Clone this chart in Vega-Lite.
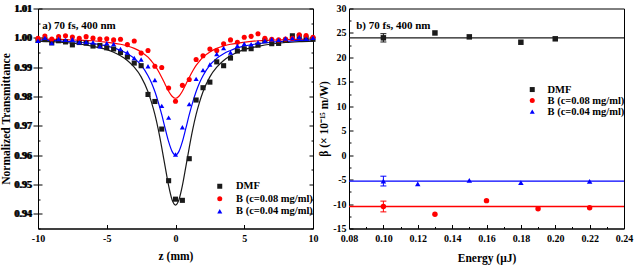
{
  "$schema": "https://vega.github.io/schema/vega-lite/v6.json",
  "background": "white",
  "padding": {"left": 0, "top": 2.5, "right": 0, "bottom": 0},
  "spacing": 36,
  "bounds": "flush",
  "resolve": {"scale": {"color": "independent", "shape": "independent"}, "legend": {"color": "independent", "shape": "independent"}},
  "config": {
    "view": {"stroke": "black", "strokeWidth": 1},
    "font": "Liberation Serif",
    "axis": {"labelFont": "Liberation Serif", "labelFontWeight": "bold", "labelFontSize": 10, "labelColor": "black", "titleFont": "Liberation Serif", "titleFontWeight": "bold", "titleFontSize": 11.5, "titleColor": "black", "domainColor": "black", "tickColor": "black", "grid": false, "labelOverlap": false, "labelFlush": false},
    "legend": {"labelFont": "Liberation Serif", "labelFontWeight": "bold", "labelFontSize": 10.5, "labelColor": "black"}
  },
  "datasets": {
    "fit": [
      {"series": "DMF", "z": -10, "T": 0.9989}, {"series": "DMF", "z": -9, "T": 0.9987}, {"series": "DMF", "z": -8, "T": 0.9984}, {"series": "DMF", "z": -7, "T": 0.9979}, {"series": "DMF", "z": -6, "T": 0.9971}, {"series": "DMF", "z": -5, "T": 0.996}, {"series": "DMF", "z": -4.5, "T": 0.9951}, {"series": "DMF", "z": -4, "T": 0.9939}, {"series": "DMF", "z": -3.5, "T": 0.9923}, {"series": "DMF", "z": -3, "T": 0.99}, {"series": "DMF", "z": -2.5, "T": 0.9867}, {"series": "DMF", "z": -2, "T": 0.9816}, {"series": "DMF", "z": -1.75, "T": 0.9781}, {"series": "DMF", "z": -1.5, "T": 0.9739}, {"series": "DMF", "z": -1.25, "T": 0.9687}, {"series": "DMF", "z": -1, "T": 0.9626}, {"series": "DMF", "z": -0.75, "T": 0.956}, {"series": "DMF", "z": -0.5, "T": 0.9496}, {"series": "DMF", "z": -0.25, "T": 0.9448}, {"series": "DMF", "z": 0, "T": 0.943}, {"series": "DMF", "z": 0.25, "T": 0.9448}, {"series": "DMF", "z": 0.5, "T": 0.9496}, {"series": "DMF", "z": 0.75, "T": 0.956}, {"series": "DMF", "z": 1, "T": 0.9626}, {"series": "DMF", "z": 1.25, "T": 0.9687}, {"series": "DMF", "z": 1.5, "T": 0.9739}, {"series": "DMF", "z": 1.75, "T": 0.9781}, {"series": "DMF", "z": 2, "T": 0.9816}, {"series": "DMF", "z": 2.5, "T": 0.9867}, {"series": "DMF", "z": 3, "T": 0.99}, {"series": "DMF", "z": 3.5, "T": 0.9923}, {"series": "DMF", "z": 4, "T": 0.9939}, {"series": "DMF", "z": 4.5, "T": 0.9951}, {"series": "DMF", "z": 5, "T": 0.996}, {"series": "DMF", "z": 6, "T": 0.9971}, {"series": "DMF", "z": 7, "T": 0.9979}, {"series": "DMF", "z": 8, "T": 0.9984}, {"series": "DMF", "z": 9, "T": 0.9987}, {"series": "DMF", "z": 10, "T": 0.9989},
      {"series": "B (c=0.08 mg/ml)", "z": -10, "T": 0.9996}, {"series": "B (c=0.08 mg/ml)", "z": -9, "T": 0.9995}, {"series": "B (c=0.08 mg/ml)", "z": -8, "T": 0.9994}, {"series": "B (c=0.08 mg/ml)", "z": -7, "T": 0.9992}, {"series": "B (c=0.08 mg/ml)", "z": -6, "T": 0.999}, {"series": "B (c=0.08 mg/ml)", "z": -5, "T": 0.9985}, {"series": "B (c=0.08 mg/ml)", "z": -4.5, "T": 0.9982}, {"series": "B (c=0.08 mg/ml)", "z": -4, "T": 0.9978}, {"series": "B (c=0.08 mg/ml)", "z": -3.5, "T": 0.9972}, {"series": "B (c=0.08 mg/ml)", "z": -3, "T": 0.9964}, {"series": "B (c=0.08 mg/ml)", "z": -2.5, "T": 0.9952}, {"series": "B (c=0.08 mg/ml)", "z": -2, "T": 0.9934}, {"series": "B (c=0.08 mg/ml)", "z": -1.75, "T": 0.9921}, {"series": "B (c=0.08 mg/ml)", "z": -1.5, "T": 0.9906}, {"series": "B (c=0.08 mg/ml)", "z": -1.25, "T": 0.9887}, {"series": "B (c=0.08 mg/ml)", "z": -1, "T": 0.9865}, {"series": "B (c=0.08 mg/ml)", "z": -0.75, "T": 0.9841}, {"series": "B (c=0.08 mg/ml)", "z": -0.5, "T": 0.9818}, {"series": "B (c=0.08 mg/ml)", "z": -0.25, "T": 0.9801}, {"series": "B (c=0.08 mg/ml)", "z": 0, "T": 0.9794}, {"series": "B (c=0.08 mg/ml)", "z": 0.25, "T": 0.9801}, {"series": "B (c=0.08 mg/ml)", "z": 0.5, "T": 0.9818}, {"series": "B (c=0.08 mg/ml)", "z": 0.75, "T": 0.9841}, {"series": "B (c=0.08 mg/ml)", "z": 1, "T": 0.9865}, {"series": "B (c=0.08 mg/ml)", "z": 1.25, "T": 0.9887}, {"series": "B (c=0.08 mg/ml)", "z": 1.5, "T": 0.9906}, {"series": "B (c=0.08 mg/ml)", "z": 1.75, "T": 0.9921}, {"series": "B (c=0.08 mg/ml)", "z": 2, "T": 0.9934}, {"series": "B (c=0.08 mg/ml)", "z": 2.5, "T": 0.9952}, {"series": "B (c=0.08 mg/ml)", "z": 3, "T": 0.9964}, {"series": "B (c=0.08 mg/ml)", "z": 3.5, "T": 0.9972}, {"series": "B (c=0.08 mg/ml)", "z": 4, "T": 0.9978}, {"series": "B (c=0.08 mg/ml)", "z": 4.5, "T": 0.9982}, {"series": "B (c=0.08 mg/ml)", "z": 5, "T": 0.9985}, {"series": "B (c=0.08 mg/ml)", "z": 6, "T": 0.999}, {"series": "B (c=0.08 mg/ml)", "z": 7, "T": 0.9992}, {"series": "B (c=0.08 mg/ml)", "z": 8, "T": 0.9994}, {"series": "B (c=0.08 mg/ml)", "z": 9, "T": 0.9995}, {"series": "B (c=0.08 mg/ml)", "z": 10, "T": 0.9996},
      {"series": "B (c=0.04 mg/ml)", "z": -10, "T": 0.9993}, {"series": "B (c=0.04 mg/ml)", "z": -9, "T": 0.9991}, {"series": "B (c=0.04 mg/ml)", "z": -8, "T": 0.9988}, {"series": "B (c=0.04 mg/ml)", "z": -7, "T": 0.9985}, {"series": "B (c=0.04 mg/ml)", "z": -6, "T": 0.998}, {"series": "B (c=0.04 mg/ml)", "z": -5, "T": 0.9972}, {"series": "B (c=0.04 mg/ml)", "z": -4.5, "T": 0.9966}, {"series": "B (c=0.04 mg/ml)", "z": -4, "T": 0.9957}, {"series": "B (c=0.04 mg/ml)", "z": -3.5, "T": 0.9946}, {"series": "B (c=0.04 mg/ml)", "z": -3, "T": 0.993}, {"series": "B (c=0.04 mg/ml)", "z": -2.5, "T": 0.9907}, {"series": "B (c=0.04 mg/ml)", "z": -2, "T": 0.9871}, {"series": "B (c=0.04 mg/ml)", "z": -1.75, "T": 0.9847}, {"series": "B (c=0.04 mg/ml)", "z": -1.5, "T": 0.9817}, {"series": "B (c=0.04 mg/ml)", "z": -1.25, "T": 0.978}, {"series": "B (c=0.04 mg/ml)", "z": -1, "T": 0.9738}, {"series": "B (c=0.04 mg/ml)", "z": -0.75, "T": 0.9691}, {"series": "B (c=0.04 mg/ml)", "z": -0.5, "T": 0.9646}, {"series": "B (c=0.04 mg/ml)", "z": -0.25, "T": 0.9613}, {"series": "B (c=0.04 mg/ml)", "z": 0, "T": 0.96}, {"series": "B (c=0.04 mg/ml)", "z": 0.25, "T": 0.9613}, {"series": "B (c=0.04 mg/ml)", "z": 0.5, "T": 0.9646}, {"series": "B (c=0.04 mg/ml)", "z": 0.75, "T": 0.9691}, {"series": "B (c=0.04 mg/ml)", "z": 1, "T": 0.9738}, {"series": "B (c=0.04 mg/ml)", "z": 1.25, "T": 0.978}, {"series": "B (c=0.04 mg/ml)", "z": 1.5, "T": 0.9817}, {"series": "B (c=0.04 mg/ml)", "z": 1.75, "T": 0.9847}, {"series": "B (c=0.04 mg/ml)", "z": 2, "T": 0.9871}, {"series": "B (c=0.04 mg/ml)", "z": 2.5, "T": 0.9907}, {"series": "B (c=0.04 mg/ml)", "z": 3, "T": 0.993}, {"series": "B (c=0.04 mg/ml)", "z": 3.5, "T": 0.9946}, {"series": "B (c=0.04 mg/ml)", "z": 4, "T": 0.9957}, {"series": "B (c=0.04 mg/ml)", "z": 4.5, "T": 0.9966}, {"series": "B (c=0.04 mg/ml)", "z": 5, "T": 0.9972}, {"series": "B (c=0.04 mg/ml)", "z": 6, "T": 0.998}, {"series": "B (c=0.04 mg/ml)", "z": 7, "T": 0.9985}, {"series": "B (c=0.04 mg/ml)", "z": 8, "T": 0.9988}, {"series": "B (c=0.04 mg/ml)", "z": 9, "T": 0.9991}, {"series": "B (c=0.04 mg/ml)", "z": 10, "T": 0.9993}
    ],
    "zscan": [
      {"series": "DMF", "z": -10, "T": 0.9991}, {"series": "DMF", "z": -9.5, "T": 0.9994}, {"series": "DMF", "z": -9, "T": 0.9983}, {"series": "DMF", "z": -8.5, "T": 0.999}, {"series": "DMF", "z": -8, "T": 0.9986}, {"series": "DMF", "z": -7.5, "T": 0.9976}, {"series": "DMF", "z": -7, "T": 0.9984}, {"series": "DMF", "z": -6.5, "T": 0.9982}, {"series": "DMF", "z": -6, "T": 0.9972}, {"series": "DMF", "z": -5.5, "T": 0.9974}, {"series": "DMF", "z": -5, "T": 0.9966}, {"series": "DMF", "z": -4.5, "T": 0.9962}, {"series": "DMF", "z": -4, "T": 0.995}, {"series": "DMF", "z": -3.5, "T": 0.9935}, {"series": "DMF", "z": -3, "T": 0.9914}, {"series": "DMF", "z": -2.5, "T": 0.9905}, {"series": "DMF", "z": -2, "T": 0.9807}, {"series": "DMF", "z": -1.5, "T": 0.9783}, {"series": "DMF", "z": -1, "T": 0.9689}, {"series": "DMF", "z": -0.5, "T": 0.9513}, {"series": "DMF", "z": 0, "T": 0.945}, {"series": "DMF", "z": 0.5, "T": 0.9446}, {"series": "DMF", "z": 1, "T": 0.9588}, {"series": "DMF", "z": 1.5, "T": 0.9788}, {"series": "DMF", "z": 2, "T": 0.983}, {"series": "DMF", "z": 2.5, "T": 0.9849}, {"series": "DMF", "z": 3, "T": 0.9918}, {"series": "DMF", "z": 3.5, "T": 0.9905}, {"series": "DMF", "z": 4, "T": 0.9931}, {"series": "DMF", "z": 4.5, "T": 0.9955}, {"series": "DMF", "z": 5, "T": 0.9962}, {"series": "DMF", "z": 5.5, "T": 0.9963}, {"series": "DMF", "z": 6, "T": 0.9975}, {"series": "DMF", "z": 6.5, "T": 0.999}, {"series": "DMF", "z": 7, "T": 0.998}, {"series": "DMF", "z": 7.5, "T": 0.9981}, {"series": "DMF", "z": 8, "T": 0.9991}, {"series": "DMF", "z": 8.5, "T": 1.0007}, {"series": "DMF", "z": 9, "T": 1.0004}, {"series": "DMF", "z": 9.5, "T": 0.9999}, {"series": "DMF", "z": 10, "T": 0.9995},
      {"series": "B (c=0.08 mg/ml)", "z": -10, "T": 0.9998}, {"series": "B (c=0.08 mg/ml)", "z": -9.5, "T": 1.0006}, {"series": "B (c=0.08 mg/ml)", "z": -9, "T": 0.9996}, {"series": "B (c=0.08 mg/ml)", "z": -8.5, "T": 1.0004}, {"series": "B (c=0.08 mg/ml)", "z": -8, "T": 1.0007}, {"series": "B (c=0.08 mg/ml)", "z": -7.5, "T": 1.0003}, {"series": "B (c=0.08 mg/ml)", "z": -7, "T": 0.9998}, {"series": "B (c=0.08 mg/ml)", "z": -6.5, "T": 1.0004}, {"series": "B (c=0.08 mg/ml)", "z": -6, "T": 0.9999}, {"series": "B (c=0.08 mg/ml)", "z": -5.5, "T": 0.9996}, {"series": "B (c=0.08 mg/ml)", "z": -5, "T": 0.9997}, {"series": "B (c=0.08 mg/ml)", "z": -4.5, "T": 0.9993}, {"series": "B (c=0.08 mg/ml)", "z": -4, "T": 0.9995}, {"series": "B (c=0.08 mg/ml)", "z": -3.5, "T": 0.9977}, {"series": "B (c=0.08 mg/ml)", "z": -3, "T": 0.9989}, {"series": "B (c=0.08 mg/ml)", "z": -2.5, "T": 0.9948}, {"series": "B (c=0.08 mg/ml)", "z": -2, "T": 0.9957}, {"series": "B (c=0.08 mg/ml)", "z": -1.5, "T": 0.9903}, {"series": "B (c=0.08 mg/ml)", "z": -1, "T": 0.9899}, {"series": "B (c=0.08 mg/ml)", "z": -0.5, "T": 0.9829}, {"series": "B (c=0.08 mg/ml)", "z": 0, "T": 0.9784}, {"series": "B (c=0.08 mg/ml)", "z": 0.5, "T": 0.9838}, {"series": "B (c=0.08 mg/ml)", "z": 1, "T": 0.9858}, {"series": "B (c=0.08 mg/ml)", "z": 1.5, "T": 0.9926}, {"series": "B (c=0.08 mg/ml)", "z": 2, "T": 0.9939}, {"series": "B (c=0.08 mg/ml)", "z": 2.5, "T": 0.9962}, {"series": "B (c=0.08 mg/ml)", "z": 3, "T": 0.9957}, {"series": "B (c=0.08 mg/ml)", "z": 3.5, "T": 0.998}, {"series": "B (c=0.08 mg/ml)", "z": 4, "T": 0.9993}, {"series": "B (c=0.08 mg/ml)", "z": 4.5, "T": 0.9985}, {"series": "B (c=0.08 mg/ml)", "z": 5, "T": 1.0002}, {"series": "B (c=0.08 mg/ml)", "z": 5.5, "T": 1.0005}, {"series": "B (c=0.08 mg/ml)", "z": 6, "T": 1.0014}, {"series": "B (c=0.08 mg/ml)", "z": 6.5, "T": 0.9998}, {"series": "B (c=0.08 mg/ml)", "z": 7, "T": 0.9995}, {"series": "B (c=0.08 mg/ml)", "z": 7.5, "T": 0.9993}, {"series": "B (c=0.08 mg/ml)", "z": 8, "T": 0.9996}, {"series": "B (c=0.08 mg/ml)", "z": 8.5, "T": 0.9998}, {"series": "B (c=0.08 mg/ml)", "z": 9, "T": 1.001}, {"series": "B (c=0.08 mg/ml)", "z": 9.5, "T": 1.0008}, {"series": "B (c=0.08 mg/ml)", "z": 10, "T": 1.0002},
      {"series": "B (c=0.04 mg/ml)", "z": -10, "T": 0.999}, {"series": "B (c=0.04 mg/ml)", "z": -9.5, "T": 1.0}, {"series": "B (c=0.04 mg/ml)", "z": -9, "T": 0.9982}, {"series": "B (c=0.04 mg/ml)", "z": -8.5, "T": 0.9996}, {"series": "B (c=0.04 mg/ml)", "z": -8, "T": 0.9993}, {"series": "B (c=0.04 mg/ml)", "z": -7.5, "T": 0.9995}, {"series": "B (c=0.04 mg/ml)", "z": -7, "T": 0.9985}, {"series": "B (c=0.04 mg/ml)", "z": -6.5, "T": 0.9986}, {"series": "B (c=0.04 mg/ml)", "z": -6, "T": 0.9985}, {"series": "B (c=0.04 mg/ml)", "z": -5.5, "T": 0.9971}, {"series": "B (c=0.04 mg/ml)", "z": -5, "T": 0.9982}, {"series": "B (c=0.04 mg/ml)", "z": -4.5, "T": 0.9979}, {"series": "B (c=0.04 mg/ml)", "z": -4, "T": 0.9962}, {"series": "B (c=0.04 mg/ml)", "z": -3.5, "T": 0.995}, {"series": "B (c=0.04 mg/ml)", "z": -3, "T": 0.9931}, {"series": "B (c=0.04 mg/ml)", "z": -2.5, "T": 0.9926}, {"series": "B (c=0.04 mg/ml)", "z": -2, "T": 0.9903}, {"series": "B (c=0.04 mg/ml)", "z": -1.5, "T": 0.9856}, {"series": "B (c=0.04 mg/ml)", "z": -1, "T": 0.9768}, {"series": "B (c=0.04 mg/ml)", "z": -0.5, "T": 0.9728}, {"series": "B (c=0.04 mg/ml)", "z": 0, "T": 0.9602}, {"series": "B (c=0.04 mg/ml)", "z": 0.5, "T": 0.9695}, {"series": "B (c=0.04 mg/ml)", "z": 1, "T": 0.9774}, {"series": "B (c=0.04 mg/ml)", "z": 1.5, "T": 0.986}, {"series": "B (c=0.04 mg/ml)", "z": 2, "T": 0.989}, {"series": "B (c=0.04 mg/ml)", "z": 2.5, "T": 0.9909}, {"series": "B (c=0.04 mg/ml)", "z": 3, "T": 0.9945}, {"series": "B (c=0.04 mg/ml)", "z": 3.5, "T": 0.9965}, {"series": "B (c=0.04 mg/ml)", "z": 4, "T": 0.995}, {"series": "B (c=0.04 mg/ml)", "z": 4.5, "T": 0.9973}, {"series": "B (c=0.04 mg/ml)", "z": 5, "T": 0.998}, {"series": "B (c=0.04 mg/ml)", "z": 5.5, "T": 0.9978}, {"series": "B (c=0.04 mg/ml)", "z": 6, "T": 0.9985}, {"series": "B (c=0.04 mg/ml)", "z": 6.5, "T": 0.999}, {"series": "B (c=0.04 mg/ml)", "z": 7, "T": 0.9995}, {"series": "B (c=0.04 mg/ml)", "z": 7.5, "T": 0.9993}, {"series": "B (c=0.04 mg/ml)", "z": 8, "T": 0.9998}, {"series": "B (c=0.04 mg/ml)", "z": 8.5, "T": 0.9999}, {"series": "B (c=0.04 mg/ml)", "z": 9, "T": 1.0003}, {"series": "B (c=0.04 mg/ml)", "z": 9.5, "T": 0.9997}, {"series": "B (c=0.04 mg/ml)", "z": 10, "T": 1.0}
    ],
    "beta": [
      {"series": "DMF", "E": 0.10, "beta": 24.0}, {"series": "DMF", "E": 0.13, "beta": 25.0}, {"series": "DMF", "E": 0.15, "beta": 24.2}, {"series": "DMF", "E": 0.18, "beta": 23.1}, {"series": "DMF", "E": 0.20, "beta": 23.8},
      {"series": "B (c=0.08 mg/ml)", "E": 0.10, "beta": -10.5}, {"series": "B (c=0.08 mg/ml)", "E": 0.13, "beta": -12.1}, {"series": "B (c=0.08 mg/ml)", "E": 0.16, "beta": -9.3}, {"series": "B (c=0.08 mg/ml)", "E": 0.19, "beta": -10.95}, {"series": "B (c=0.08 mg/ml)", "E": 0.22, "beta": -10.75},
      {"series": "B (c=0.04 mg/ml)", "E": 0.10, "beta": -5.3}, {"series": "B (c=0.04 mg/ml)", "E": 0.12, "beta": -5.85}, {"series": "B (c=0.04 mg/ml)", "E": 0.15, "beta": -5.15}, {"series": "B (c=0.04 mg/ml)", "E": 0.18, "beta": -5.6}, {"series": "B (c=0.04 mg/ml)", "E": 0.22, "beta": -5.35}
    ],
    "betaFit": [
      {"series": "DMF", "E": 0.08, "beta": 24.0}, {"series": "DMF", "E": 0.24, "beta": 24.0},
      {"series": "B (c=0.08 mg/ml)", "E": 0.08, "beta": -10.5}, {"series": "B (c=0.08 mg/ml)", "E": 0.24, "beta": -10.5},
      {"series": "B (c=0.04 mg/ml)", "E": 0.08, "beta": -5.3}, {"series": "B (c=0.04 mg/ml)", "E": 0.24, "beta": -5.3}
    ],
    "betaErr": [
      {"series": "DMF", "E": 0.10, "lo": 23.15, "hi": 24.85},
      {"series": "B (c=0.08 mg/ml)", "E": 0.10, "lo": -11.6, "hi": -9.4},
      {"series": "B (c=0.04 mg/ml)", "E": 0.10, "lo": -6.3, "hi": -4.3}
    ],
    "noteA": [{"label": "a) 70 fs, 400 nm"}],
    "noteB": [{"label": "b) 70 fs, 400 nm"}]
  },
  "hconcat": [
    {
      "width": 275,
      "height": 220,
      "layer": [
        {
          "data": {"name": "fit"},
          "mark": {"type": "line", "interpolate": "monotone", "strokeWidth": 1.2},
          "encoding": {
            "x": {"field": "z", "type": "quantitative", "scale": {"domain": [-10, 10], "nice": false, "zero": false},
              "axis": {"title": "z (mm)", "values": [-10, -7.5, -5, -2.5, 0, 2.5, 5, 7.5, 10], "labelOverlap": false, "labelExpr": "datum.value % 5 == 0 ? replace(datum.label, '\u2212', '-') : ''", "tickSize": {"condition": {"test": "datum.value % 5 != 0", "value": -2}, "value": -4}, "labelPadding": 9, "titlePadding": 7}},
            "y": {"field": "T", "type": "quantitative", "scale": {"domain": [0.935, 1.01], "nice": false, "zero": false},
              "axis": {"orient": "left", "title": "Normalized Transmittance", "values": [0.935, 0.94, 0.945, 0.95, 0.955, 0.96, 0.965, 0.97, 0.975, 0.98, 0.985, 0.99, 0.995, 1.0, 1.005, 1.01], "labelOverlap": false, "labelExpr": "abs(datum.value*100 - round(datum.value*100)) > 0.1 ? '' : format(datum.value, '.2f')", "tickSize": {"condition": {"test": "abs(datum.value*100 - round(datum.value*100)) > 0.1", "value": -2}, "value": -4}, "labelPadding": 10, "titlePadding": 3}},
            "color": {"field": "series", "type": "nominal", "scale": {"domain": ["DMF", "B (c=0.08 mg/ml)", "B (c=0.04 mg/ml)"], "range": ["#1a1a1a", "#ff0000", "#0000ff"]}}
          }
        },
        {
          "data": {"name": "zscan"},
          "mark": {"type": "point", "filled": true, "opacity": 1, "size": 26},
          "encoding": {
            "x": {"field": "z", "type": "quantitative"},
            "y": {"field": "T", "type": "quantitative",
              "axis": {"orient": "right", "title": null, "labels": false, "values": [0.935, 0.94, 0.945, 0.95, 0.955, 0.96, 0.965, 0.97, 0.975, 0.98, 0.985, 0.99, 0.995, 1.0, 1.005, 1.01], "tickSize": {"condition": {"test": "abs(datum.value*100 - round(datum.value*100)) > 0.1", "value": -2}, "value": -4}}},
            "color": {"field": "series", "type": "nominal",
              "legend": {"title": null, "orient": "none", "legendX": 176.5, "legendY": 172.5, "rowPadding": 1.5, "labelOffset": 11, "symbolSize": 25, "symbolStrokeWidth": 0}},
            "shape": {"field": "series", "type": "nominal", "scale": {"domain": ["DMF", "B (c=0.08 mg/ml)", "B (c=0.04 mg/ml)"], "range": ["square", "circle", "triangle-up"]},
              "legend": {"title": null, "orient": "none", "legendX": 176.5, "legendY": 172.5, "rowPadding": 1.5, "labelOffset": 11, "symbolSize": 25, "symbolStrokeWidth": 0}}
          }
        },
        {
          "data": {"name": "noteA"},
          "mark": {"type": "text", "align": "left", "baseline": "middle", "font": "Liberation Serif", "fontWeight": "bold", "fontSize": 11, "color": "black"},
          "encoding": {
            "x": {"datum": -9.7, "type": "quantitative"},
            "y": {"datum": 1.0039, "type": "quantitative"},
            "text": {"field": "label"}
          }
        }
      ],
      "resolve": {"axis": {"y": "independent"}}
    },
    {
      "width": 275,
      "height": 220,
      "layer": [
        {
          "data": {"name": "betaFit"},
          "mark": {"type": "line", "strokeWidth": 1.3},
          "encoding": {
            "x": {"field": "E", "type": "quantitative", "scale": {"domain": [0.08, 0.24], "nice": false, "zero": false},
              "axis": {"orient": "bottom", "title": "Energy (\u03bcJ)", "values": [0.08, 0.09, 0.10, 0.11, 0.12, 0.13, 0.14, 0.15, 0.16, 0.17, 0.18, 0.19, 0.20, 0.21, 0.22, 0.23, 0.24], "labelOverlap": false, "labelExpr": "abs(datum.value*50 - round(datum.value*50)) < 0.01 ? format(datum.value, '.2f') : ''", "tickSize": {"condition": {"test": "abs(datum.value*50 - round(datum.value*50)) > 0.01", "value": -2}, "value": -4}, "labelPadding": 9, "titlePadding": 7}},
            "y": {"field": "beta", "type": "quantitative", "scale": {"domain": [-15, 30], "nice": false, "zero": false},
              "axis": {"orient": "left", "title": "\u03b2 (\u00d7 10\u207b\u00b9\u2075 m/W)", "values": [-15, -12.5, -10, -7.5, -5, -2.5, 0, 2.5, 5, 7.5, 10, 12.5, 15, 17.5, 20, 22.5, 25, 27.5, 30], "labelOverlap": false, "labelExpr": "datum.value % 5 == 0 ? replace(datum.label, '\u2212', '-') : ''", "tickSize": {"condition": {"test": "datum.value % 5 != 0", "value": -2}, "value": -4}, "labelPadding": 7, "titlePadding": 3, "titleFontSize": 11.5}},
            "color": {"field": "series", "type": "nominal", "scale": {"domain": ["DMF", "B (c=0.08 mg/ml)", "B (c=0.04 mg/ml)"], "range": ["#1a1a1a", "#ff0000", "#0000ff"]}}
          }
        },
        {
          "data": {"name": "betaErr"},
          "mark": {"type": "rule", "strokeWidth": 1},
          "encoding": {
            "x": {"field": "E", "type": "quantitative", "axis": null},
            "y": {"field": "lo", "type": "quantitative", "axis": null},
            "y2": {"field": "hi"},
            "color": {"field": "series", "type": "nominal"}
          }
        },
        {
          "data": {"name": "betaErr"},
          "mark": {"type": "point", "shape": "M-1,0L1,0", "filled": false, "strokeWidth": 1, "size": 36, "opacity": 1},
          "encoding": {
            "x": {"field": "E", "type": "quantitative", "axis": null},
            "y": {"field": "lo", "type": "quantitative", "axis": null},
            "color": {"field": "series", "type": "nominal"}
          }
        },
        {
          "data": {"name": "betaErr"},
          "mark": {"type": "point", "shape": "M-1,0L1,0", "filled": false, "strokeWidth": 1, "size": 36, "opacity": 1},
          "encoding": {
            "x": {"field": "E", "type": "quantitative", "axis": null},
            "y": {"field": "hi", "type": "quantitative", "axis": null},
            "color": {"field": "series", "type": "nominal"}
          }
        },
        {
          "data": {"name": "beta"},
          "mark": {"type": "point", "filled": true, "opacity": 1, "size": 30},
          "encoding": {
            "x": {"field": "E", "type": "quantitative", "axis": null},
            "y": {"field": "beta", "type": "quantitative", "axis": null},
            "color": {"field": "series", "type": "nominal",
              "legend": {"title": null, "orient": "none", "legendX": 178, "legendY": 75.8, "rowPadding": 0, "labelOffset": 10, "symbolSize": 25, "symbolStrokeWidth": 0}},
            "shape": {"field": "series", "type": "nominal", "scale": {"domain": ["DMF", "B (c=0.08 mg/ml)", "B (c=0.04 mg/ml)"], "range": ["square", "circle", "triangle-up"]},
              "legend": {"title": null, "orient": "none", "legendX": 178, "legendY": 75.8, "rowPadding": 0, "labelOffset": 10, "symbolSize": 25, "symbolStrokeWidth": 0}}
          }
        },
        {
          "data": {"name": "noteB"},
          "mark": {"type": "text", "align": "left", "baseline": "middle", "font": "Liberation Serif", "fontWeight": "bold", "fontSize": 11, "color": "black"},
          "encoding": {
            "x": {"datum": 0.0842, "type": "quantitative", "axis": null},
            "y": {"datum": 26.5, "type": "quantitative", "axis": null},
            "text": {"field": "label"}
          }
        }
      ],
      "resolve": {"axis": {"x": "independent", "y": "independent"}}
    }
  ]
}
